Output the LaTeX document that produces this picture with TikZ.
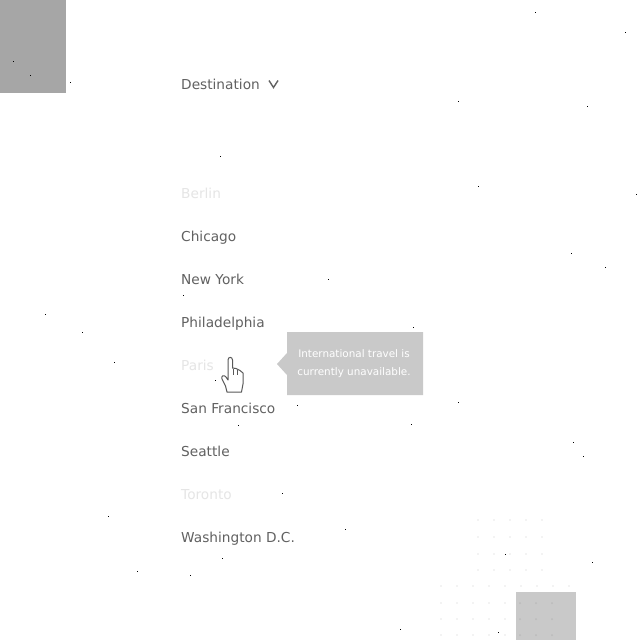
\documentclass[tikz,border=0pt]{standalone}
\usepackage{fontspec}
\setmainfont{DejaVu Sans}
\begin{document}
\begin{tikzpicture}[x=1pt,y=-1pt,
  city/.style={anchor=base west,inner sep=0pt,font=\fontsize{13.7}{16}\selectfont,text=black!62},
  off/.style={city,text=black!10},
  tiptext/.style={anchor=base,inner sep=0pt,text=white,font=\fontsize{10.4}{12}\selectfont},
  speck/.style={fill=black,draw=none},
  griddot/.style={fill=black!9,draw=none}]
\useasboundingbox (0,0) rectangle (640,640);
\fill[white] (0,0) rectangle (640,640);
\fill[black!35] (0,0) rectangle (66,93);
\foreach \x in {478,494,...,542}\foreach \y in {520,537,554,570}{\fill[griddot] (\x,\y) circle (.9);}
\foreach \x in {441,457,...,569}\foreach \y in {586,603,619,635}{\fill[griddot] (\x,\y) circle (.9);}
\fill[black!21] (516,592) rectangle (576,640);
\foreach \x in {520,536,552}\foreach \y in {603,619,635}{\fill[black!27] (\x,\y) circle (1);}
\node[city] (dest) at (181,89) {Destination};
\coordinate (cvl) at (269,80.5); \coordinate (cvm) at (273.5,87.5); \coordinate (cvr) at (278,80.5);
\draw[black!62,line width=1.4pt] (cvl) -- (cvm) -- (cvr);
\node[off] (berlin) at (181,198) {Berlin};
\node[city] (chicago) at (181,241) {Chicago};
\node[city] (newyork) at (181,284) {New York};
\node[city] (phil) at (181,327) {Philadelphia};
\node[off] (paris) at (181,370) {Paris};
\node[city] (sf) at (181,413) {San Francisco};
\node[city] (seattle) at (181,456) {Seattle};
\node[off] (toronto) at (181,499) {Toronto};
\node[city] (dc) at (181,542) {Washington D.C.};
\fill[black!21] (287,332) -- (423,332) -- (423,395) -- (287,395) -- (287,375) -- (277,364) -- (287,353) -- cycle;
\node[tiptext] (tip1) at (354,357) {International travel is};
\node[tiptext] (tip2) at (354,375.5) {currently unavailable.};
\draw[black!65,fill=white,line width=1pt,line join=round]
 (228,371) -- (228,360) .. controls (228,356.5) and (232.5,356.5) .. (232.5,360) -- (232.5,368)
 -- (236,368.5) -- (240,370.5) -- (243,373) -- (243,384) -- (241.5,392) -- (227,392) -- (225.5,386) -- (222,379)
 .. controls (221,375.5) and (224,374.5) .. (226,377) -- (228,380) -- cycle;
\draw[black!65,line width=.8pt] (233,369) -- (233,375) (237,370) -- (237,375);
\foreach \x/\y in {535/12,625/32,458/101,587/106,220/156,478/186,636/194,571/253,605/267,328/279,45/314,82/332,413/327,114/362,458/402,411/424,297/405,238/425,573/442,583/456,282/493,108/516,345/529,505/554,592/562,137/571,190/575,222/558,400/629,498/632,13/61,30/75,70/82,183/295,215/380}{\fill[speck] (\x,\y) rectangle ++(1,1);}
\end{tikzpicture}
\end{document}
